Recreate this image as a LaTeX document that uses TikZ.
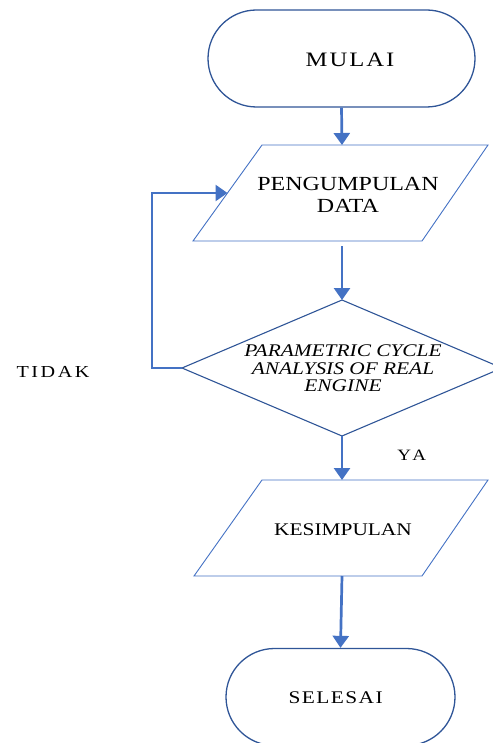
\documentclass[tikz,border=0pt]{standalone}
\usepackage{fontspec}
\setmainfont{Liberation Serif}[FakeStretch=1.2]
\usetikzlibrary{arrows.meta,shapes.misc}
\definecolor{arrowblue}{HTML}{4472C4}
\definecolor{edgeblue}{HTML}{2F5597}
\begin{document}
\begin{tikzpicture}[x=1pt,y=-1pt,
  flow/.style={draw=arrowblue, line width=2.7pt, -{Triangle[width=16pt,length=12pt]}},
  term/.style={draw=edgeblue, line width=1.3pt, rounded rectangle, inner sep=0pt},
  iobox/.style={draw=arrowblue, line width=0.9pt, line join=miter},
  decbox/.style={draw=edgeblue, line width=1.1pt},
  txt/.style={inner sep=0pt, align=center}
]
\useasboundingbox (0,0) rectangle (492,743);

% start
\node[term, minimum width=267pt, minimum height=97pt] (mulai) at (341.5,58.5) {};
\node[txt, font=\fontsize{20.5}{22}\selectfont\addfontfeatures{LetterSpace=10}] (mulaitxt) at (350,59.5) {MULAI};

% data collection
\coordinate (p1a) at (262,145);
\coordinate (p1b) at (488,145);
\coordinate (p1c) at (422,241);
\coordinate (p1d) at (193,241);
\draw[iobox] (p1a) -- (p1b) -- (p1c) -- (p1d) -- cycle;
\node[txt, font=\fontsize{20}{22}\selectfont] (data) at (348,195) {PENGUMPULAN\\DATA};
\coordinate (p1top) at (342,145);
\coordinate (p1bot) at (342,246);
\coordinate (p1left) at (227.5,193);

% decision
\coordinate (dtop) at (342,300);
\coordinate (dright) at (502,368);
\coordinate (dbot) at (342,436);
\coordinate (dleft) at (182,368);
\draw[decbox] (dtop) -- (dright) -- (dbot) -- (dleft) -- cycle;
\node[txt, font=\fontsize{17.8}{17.6}\selectfont\itshape] (pca) at (343,368.5) {PARAMETRIC CYCLE\\ANALYSIS OF REAL\\ENGINE};

% conclusion
\coordinate (p2a) at (262,480);
\coordinate (p2b) at (488,480);
\coordinate (p2c) at (422,576);
\coordinate (p2d) at (194,576);
\draw[iobox] (p2a) -- (p2b) -- (p2c) -- (p2d) -- cycle;
\node[txt, font=\fontsize{17.8}{20}\selectfont] (kes) at (343,529.5) {KESIMPULAN};
\coordinate (p2top) at (342,480);
\coordinate (p2bot) at (342,576);

% end
\node[term, minimum width=229pt, minimum height=97pt] (selesai) at (340.5,697) {};
\node[txt, font=\fontsize{17.8}{20}\selectfont\addfontfeatures{LetterSpace=8}] (seltxt) at (335.7,697.5) {SELESAI};

% labels
\node[txt, font=\fontsize{16.8}{18}\selectfont\addfontfeatures{LetterSpace=15}] (tidak) at (53,372) {TIDAK};
\node[txt, font=\fontsize{15.8}{17}\selectfont\addfontfeatures{LetterSpace=22}] (ya) at (411.7,455) {YA};

% connectors
\draw[flow] (mulai.south) -- (p1top);
\draw[flow] (p1bot) -- (dtop);
\draw[flow] (dbot) -- (p2top);
\draw[flow] (p2bot) -- (selesai.north);
\draw[flow] (dleft) -- (152,368) -- (152,193) -- (p1left);
\end{tikzpicture}
\end{document}
